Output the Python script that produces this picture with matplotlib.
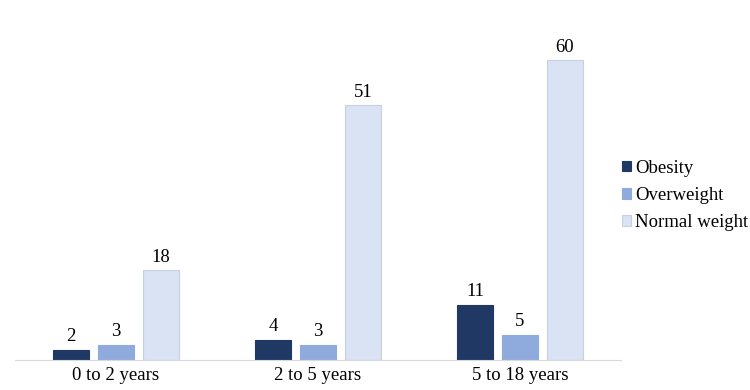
import numpy as np
import matplotlib
matplotlib.use("Agg")
from matplotlib import pyplot as plt

plt.rcParams['font.family'] = ['Liberation Serif', 'DejaVu Serif']

categories = ["0 to 2 years", "2 to 5 years", "5 to 18 years"]
series_names = ["Obesity", "Overweight", "Normal weight"]
obesity = [2, 4, 11]
overweight = [3, 3, 5]
normal_weight = [18, 51, 60]

colors = ["#203864", "#8FAADC", "#DAE3F3"]
edges = ["#203864", "#8FAADC", "#C5D0E3"]

fig = plt.figure(figsize=(7.5, 3.9), dpi=100)
ax = fig.add_axes([0.02, 0.077, 0.808, 0.897])

x = np.arange(len(categories))
width = 0.178
step = 0.223
for i, (name, vals) in enumerate(zip(series_names, [obesity, overweight, normal_weight])):
    pos = x + (i - 1) * step
    bars = ax.bar(pos, vals, width, color=colors[i], edgecolor=edges[i], linewidth=0.8, label=name)
    for b, v in zip(bars, vals):
        ax.text(b.get_x() + b.get_width() / 2, v + 0.9, str(v), ha='center', va='bottom', fontsize=13.5)

ax.set_xlim(-0.5, 2.5)
ax.set_ylim(0, 70)
ax.set_xticks(x)
ax.set_xticklabels(categories, fontsize=13.5)
ax.tick_params(axis='x', length=0, pad=5)
ax.set_yticks([])
for s in ['top', 'right', 'left']:
    ax.spines[s].set_visible(False)
ax.spines['bottom'].set_color('#D9D9D9')

ax.legend(loc='center left', bbox_to_anchor=(0.989, 0.47), borderaxespad=0, frameon=False, fontsize=13.5,
          handlelength=0.5, handleheight=0.5, handletextpad=0.2, labelspacing=0.55)

fig.savefig("out.png", dpi=100)
